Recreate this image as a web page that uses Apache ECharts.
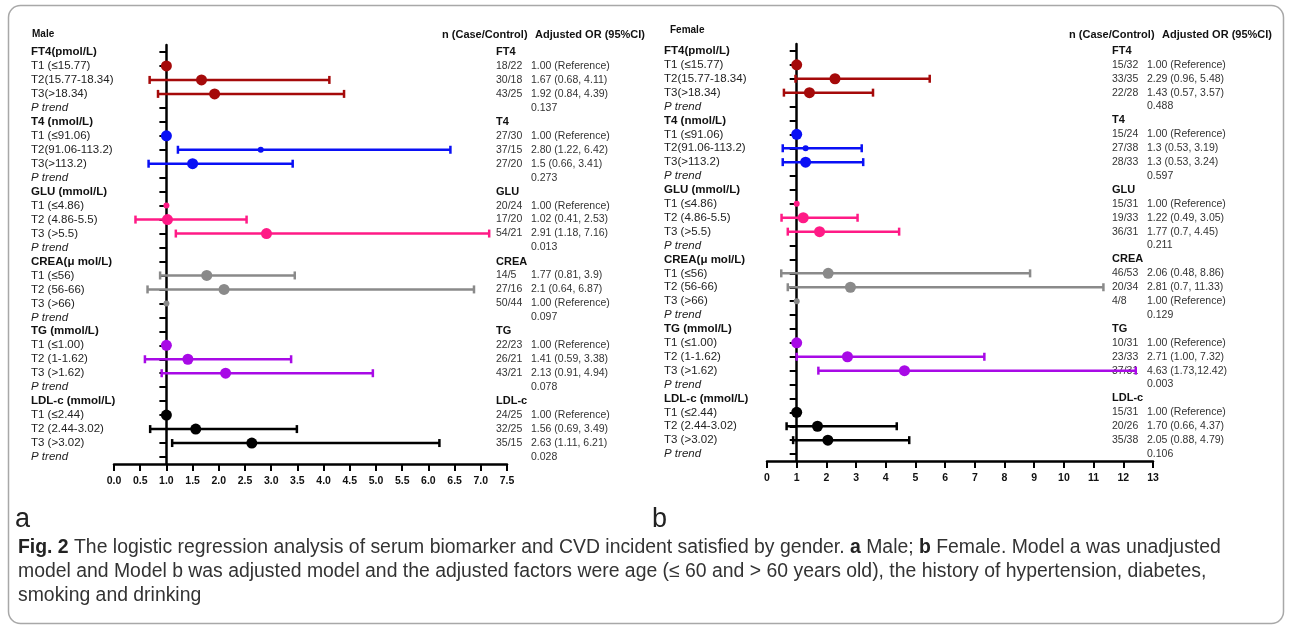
<!DOCTYPE html>
<html>
<head>
<meta charset="utf-8">
<script src="https://cdn.jsdelivr.net/npm/echarts@6/dist/echarts.min.js"></script>
<style>
  html, body { margin: 0; padding: 0; background: #fff; }
  #chart { width: 1292px; height: 630px; }
</style>
</head>
<body>
<div id="chart"></div>
<script>
// row labels (shared by both panels)
const groupLabels = ["FT4(pmol/L)", "T4 (nmol/L)", "GLU (mmol/L)", "CREA(μ mol/L)", "TG (mmol/L)", "LDL-c (mmol/L)"];
const groupShort = ["FT4", "T4", "GLU", "CREA", "TG", "LDL-c"];
const tertileLabels = [
  ["T1 (≤15.77)", "T2(15.77-18.34)", "T3(>18.34)"],
  ["T1 (≤91.06)", "T2(91.06-113.2)", "T3(>113.2)"],
  ["T1 (≤4.86)", "T2 (4.86-5.5)", "T3 (>5.5)"],
  ["T1 (≤56)", "T2 (56-66)", "T3 (>66)"],
  ["T1 (≤1.00)", "T2 (1-1.62)", "T3 (>1.62)"],
  ["T1 (≤2.44)", "T2 (2.44-3.02)", "T3 (>3.02)"],
];

// Male: plotted OR and CI ends, 3 tertiles per marker
const maleOR = [1.00, 1.67, 1.92, 1.00, 2.80, 1.50, 1.00, 1.02, 2.91, 1.77, 2.10, 1.00, 1.00, 1.41, 2.13, 1.00, 1.56, 2.63];
const maleLo = [null, 0.68, 0.84, null, 1.22, 0.66, null, 0.41, 1.18, 0.88, 0.64, null, null, 0.59, 0.91, null, 0.69, 1.11];
const maleHi = [null, 4.11, 4.39, null, 6.42, 3.41, null, 2.53, 7.16, 3.45, 6.87, null, null, 3.38, 4.94, null, 3.49, 6.21];
const maleN = ["18/22", "30/18", "43/25", "27/30", "37/15", "27/20", "20/24", "17/20", "54/21", "14/5", "27/16", "50/44", "22/23", "26/21", "43/21", "24/25", "32/25", "35/15"];
const maleOrText = ["1.00 (Reference)", "1.67 (0.68, 4.11)", "1.92 (0.84, 4.39)",
  "1.00 (Reference)", "2.80 (1.22, 6.42)", "1.5 (0.66, 3.41)",
  "1.00 (Reference)", "1.02 (0.41, 2.53)", "2.91 (1.18, 7.16)",
  "1.77 (0.81, 3.9)", "2.1 (0.64, 6.87)", "1.00 (Reference)",
  "1.00 (Reference)", "1.41 (0.59, 3.38)", "2.13 (0.91, 4.94)",
  "1.00 (Reference)", "1.56 (0.69, 3.49)", "2.63 (1.11, 6.21)"];
const malePTrend = ["0.137", "0.273", "0.013", "0.097", "0.078", "0.028"];

// Female
const femaleOR = [1.00, 2.29, 1.43, 1.00, 1.3, 1.3, 1.00, 1.22, 1.77, 2.06, 2.81, 1.00, 1.00, 2.71, 4.63, 1.00, 1.70, 2.05];
const femaleLo = [null, 0.96, 0.57, null, 0.53, 0.53, null, 0.49, 0.7, 0.48, 0.7, null, null, 1.00, 1.73, null, 0.66, 0.88];
const femaleHi = [null, 5.48, 3.57, null, 3.19, 3.24, null, 3.05, 4.45, 8.86, 11.33, null, null, 7.32, 12.42, null, 4.37, 4.79];
const femaleN = ["15/32", "33/35", "22/28", "15/24", "27/38", "28/33", "15/31", "19/33", "36/31", "46/53", "20/34", "4/8", "10/31", "23/33", "37/31", "15/31", "20/26", "35/38"];
const femaleOrText = ["1.00 (Reference)", "2.29 (0.96, 5.48)", "1.43 (0.57, 3.57)",
  "1.00 (Reference)", "1.3 (0.53, 3.19)", "1.3 (0.53, 3.24)",
  "1.00 (Reference)", "1.22 (0.49, 3.05)", "1.77 (0.7, 4.45)",
  "2.06 (0.48, 8.86)", "2.81 (0.7, 11.33)", "1.00 (Reference)",
  "1.00 (Reference)", "2.71 (1.00, 7.32)", "4.63 (1.73,12.42)",
  "1.00 (Reference)", "1.70 (0.66, 4.37)", "2.05 (0.88, 4.79)"];
const femalePTrend = ["0.488", "0.597", "0.211", "0.129", "0.003", "0.106"];

// styles
const groupColors = ["#a50a0a", "#0a10f5", "#ff1a86", "#8a8a8a", "#a80ae6", "#000000"];
const smallDots = [4, 6, 11]; // tertile indexes drawn with a small dot

// build row lists
const rows = [];
groupLabels.forEach((g, i) => {
  rows.push(g);
  tertileLabels[i].forEach((t) => rows.push(t));
  rows.push("P trend");
});
const rowOf = (k) => Math.floor(k / 3) * 5 + 1 + (k % 3);

function nColumn(nArr) {
  const out = [];
  groupShort.forEach((g, i) => {
    out.push(g);
    for (let t = 0; t < 3; t++) out.push(nArr[i * 3 + t]);
    out.push(" ");
  });
  return out;
}
function orColumn(orArr, pArr) {
  const out = [];
  groupShort.forEach((g, i) => {
    out.push(" ");
    for (let t = 0; t < 3; t++) out.push(orArr[i * 3 + t]);
    out.push(pArr[i]);
  });
  return out;
}

const font = "Liberation Sans, Arial, sans-serif";

function rowLabelFmt(value, index) {
  if (index % 5 === 0) return "{h|" + value + "}";
  if (index % 5 === 4) return "{p|" + value + "}";
  return value;
}
function headFmt(value, index) {
  if (index % 5 === 0) return "{h|" + value + "}";
  return value;
}

// panel geometry
const panels = [
  { left: 114, top: 45, width: 393, height: 419, max: 7.5, interval: 0.5, labelX: 31, nX: 496, orX: 531 },
  { left: 767, top: 44, width: 386, height: 417, max: 13, interval: 1, labelX: 664, nX: 1112, orX: 1147 },
];

const grids = [], xAxes = [], yAxes = [], series = [];
const panelData = [
  { or: maleOR, lo: maleLo, hi: maleHi, n: maleN, orText: maleOrText, p: malePTrend },
  { or: femaleOR, lo: femaleLo, hi: femaleHi, n: femaleN, orText: femaleOrText, p: femalePTrend },
];

panels.forEach((pn, i) => {
  const d = panelData[i];
  grids.push({ left: pn.left, top: pn.top, width: pn.width, height: pn.height, outerBoundsMode: "none", containLabel: false });
  const xs = pn.width / pn.max; // px per unit
  const refX = pn.left + xs * 1;
  xAxes.push({
    type: "value",
    gridIndex: i,
    min: 0,
    max: pn.max,
    interval: pn.interval,
    splitLine: { show: false },
    axisLine: { show: true, onZero: false, lineStyle: { color: "#000", width: 2.5 } },
    axisTick: { show: true, length: 7, lineStyle: { color: "#000", width: 2 } },
    axisLabel: {
      color: "#111",
      fontFamily: font,
      fontSize: 10.5,
      fontWeight: "bold",
      margin: 12,
      showMinLabel: true,
      showMaxLabel: true,
      formatter: (v) => (pn.interval < 1 ? v.toFixed(1) : String(v)),
    },
  });
  // main axis with row labels, placed at OR = 1
  yAxes.push({
    type: "category",
    gridIndex: i,
    data: rows,
    inverse: true,
    position: "left",
    offset: -(refX - pn.left),
    axisLine: { show: true, onZero: false, lineStyle: { color: "#000", width: 2.5 } },
    axisTick: { show: true, alignWithLabel: true, length: 7, lineStyle: { color: "#000", width: 2 } },
    axisLabel: {
      interval: 0,
      align: "left",
      margin: refX - pn.labelX,
      color: "#222",
      fontFamily: font,
      fontSize: 11.5,
      formatter: rowLabelFmt,
      rich: {
        h: { fontWeight: "bold", fontSize: 11.5, fontFamily: font, color: "#111" },
        p: { fontStyle: "italic", fontSize: 11.5, fontFamily: font, color: "#222" },
      },
    },
  });
  // n (case/control) column
  yAxes.push({
    type: "category",
    gridIndex: i,
    data: nColumn(d.n),
    inverse: true,
    position: "right",
    offset: pn.nX - (pn.left + pn.width),
    axisLine: { show: false },
    axisTick: { show: false },
    axisLabel: {
      interval: 0,
      align: "left",
      margin: 0,
      color: "#333",
      fontFamily: font,
      fontSize: 10.5,
      formatter: headFmt,
      rich: { h: { fontWeight: "bold", fontSize: 11, fontFamily: font, color: "#111" } },
    },
  });
  // OR (95%CI) column
  yAxes.push({
    type: "category",
    gridIndex: i,
    data: orColumn(d.orText, d.p),
    inverse: true,
    position: "right",
    offset: pn.orX - (pn.left + pn.width),
    axisLine: { show: false },
    axisTick: { show: false },
    axisLabel: { interval: 0, align: "left", margin: 0, color: "#333", fontFamily: font, fontSize: 10.5 },
  });

  const barData = [];
  d.lo.forEach((lo, k) => {
    if (lo != null) barData.push([lo, d.hi[k], rowOf(k), Math.floor(k / 3)]);
  });
  series.push({
    type: "custom",
    xAxisIndex: i,
    yAxisIndex: i * 3,
    data: barData,
    encode: { x: [0, 1], y: 2 },
    z: 3,
    renderItem: (params, api) => {
      const row = api.value(2);
      const a = api.coord([api.value(0), row]);
      const b = api.coord([api.value(1), row]);
      const c = groupColors[api.value(3)];
      const h = 4;
      const st = { stroke: c, lineWidth: 2.5 };
      return {
        type: "group",
        children: [
          { type: "line", shape: { x1: a[0], y1: a[1], x2: b[0], y2: b[1] }, style: st },
          { type: "line", shape: { x1: a[0], y1: a[1] - h, x2: a[0], y2: a[1] + h }, style: st },
          { type: "line", shape: { x1: b[0], y1: b[1] - h, x2: b[0], y2: b[1] + h }, style: st },
        ],
      };
    },
  });
  series.push({
    type: "scatter",
    xAxisIndex: i,
    yAxisIndex: i * 3,
    z: 4,
    data: d.or.map((v, k) => ({
      value: [v, rowOf(k)],
      symbolSize: smallDots.includes(k) ? 6 : 11,
      itemStyle: { color: groupColors[Math.floor(k / 3)], opacity: 1 },
    })),
  });
});

const txt = (x, y, text, size, weight, extra) => ({
  type: "text",
  x: x,
  y: y,
  style: Object.assign({ text: text, fill: "#111", font: (weight || "normal") + " " + size + "px " + font, textVerticalAlign: "middle" }, extra || {}),
});

const capSize = 19.4;
const capRich = { b: { fontWeight: "bold", fontSize: capSize, fontFamily: font, fill: "#222" } };

const option = {
  backgroundColor: "#fff",
  animation: false,
  grid: grids,
  xAxis: xAxes,
  yAxis: yAxes,
  series: series,
  graphic: [
    {
      type: "rect",
      shape: { x: 8.5, y: 5.5, width: 1275, height: 618, r: 12 },
      style: { fill: "none", stroke: "#a8a8a8", lineWidth: 1.5 },
      silent: true,
    },
    txt(32, 34, "Male", 10, "bold"),
    txt(670, 30, "Female", 10, "bold"),
    txt(442, 35, "n (Case/Control)", 11, "bold"),
    txt(535, 35, "Adjusted OR (95%CI)", 11, "bold"),
    txt(1069, 35, "n (Case/Control)", 11, "bold"),
    txt(1162, 35, "Adjusted OR (95%CI)", 11, "bold"),
    txt(15, 520, "a", 27, "normal", { fill: "#222" }),
    txt(652, 520, "b", 27, "normal", { fill: "#222" }),
    txt(18, 548, "{b|Fig. 2} The logistic regression analysis of serum biomarker and CVD incident satisfied by gender. {b|a} Male; {b|b} Female. Model a was unadjusted", capSize, "normal", { fill: "#333", rich: capRich }),
    txt(18, 572, "model and Model b was adjusted model and the adjusted factors were age (≤ 60 and > 60 years old), the history of hypertension, diabetes,", capSize, "normal", { fill: "#333" }),
    txt(18, 596, "smoking and drinking", capSize, "normal", { fill: "#333" }),
  ],
};

const chart = echarts.init(document.getElementById("chart"), null, { renderer: "canvas" });
chart.setOption(option);
</script>
</body>
</html>
